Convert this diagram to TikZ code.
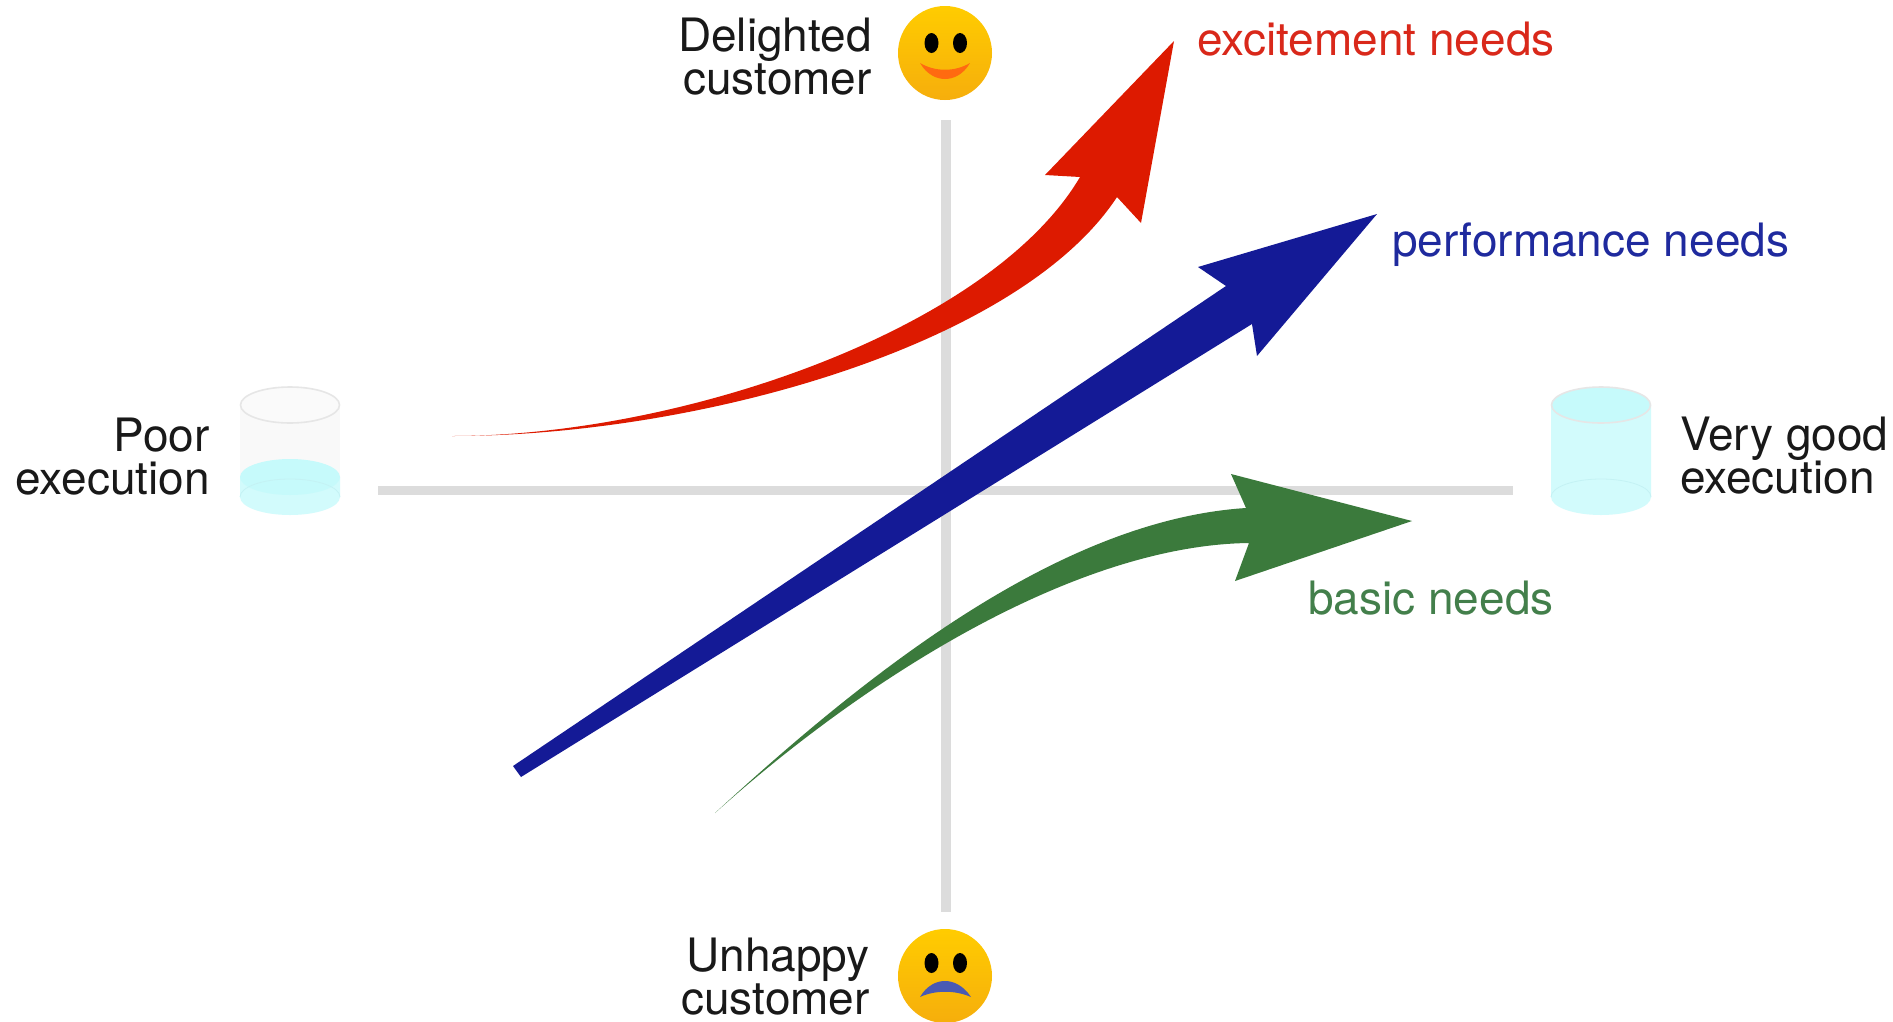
\documentclass[tikz,border=0pt]{standalone}
\usepackage{fontspec}
\setmainfont{TeX Gyre Heros}
\definecolor{axisgray}{HTML}{DCDCDC}
\definecolor{redarrow}{HTML}{DD1A00}
\definecolor{bluearrow}{HTML}{141A96}
\definecolor{greenarrow}{HTML}{3B7A3C}
\definecolor{redtext}{HTML}{D9281A}
\definecolor{bluetext}{HTML}{1F2A9E}
\definecolor{greentext}{HTML}{437F4B}
\definecolor{water}{HTML}{D2FBFC}
\definecolor{watertop}{HTML}{C6FAFB}
\definecolor{waterline}{HTML}{C4F2F4}
\definecolor{glass}{HTML}{F9F9F9}
\definecolor{glassline}{HTML}{E6E6E6}
\definecolor{facetop}{HTML}{FFCC00}
\definecolor{facebot}{HTML}{F6AE0C}
\definecolor{frown}{HTML}{4A5AB4}
\definecolor{smile}{HTML}{FF6A10}
\tikzset{
  axisline/.style={draw=axisgray,line width=9.5pt},
  blacktext/.style={font=\fontsize{46}{43}\selectfont,inner sep=0pt,text=black!90},
  needlabel/.style={font=\fontsize{46}{43}\selectfont,inner sep=0pt,anchor=base west},
  eye/.style={fill=black,draw=none},
  face/.style={circle,minimum size=94pt,inner sep=0pt,draw=none,top color=facetop,bottom color=facebot}
}
\begin{document}
\begin{tikzpicture}[x=1pt,y=-1pt]
\useasboundingbox[fill=white] (0,0) rectangle (1893,1021);
% axes
\coordinate (axL) at (378,490.5);
\coordinate (axR) at (1513,490.5);
\coordinate (axT) at (946,120);
\coordinate (axB) at (946,912);
\draw[axisline] (axL) -- (axR);
\draw[axisline] (axT) -- (axB);
% left cylinder
\fill[glass] (240,405) -- (340,405) -- (340,477) -- (240,477) -- cycle;
\fill[water] (240,477) -- (340,477) -- (340,497)
  .. controls (340,507) and (317.6,515) .. (290,515)
  .. controls (262.4,515) and (240,507) .. (240,497) -- cycle;
\fill[watertop] (290,477) ellipse[x radius=50,y radius=18];
\draw[waterline,line width=.8pt] (240,497)
  .. controls (240,487) and (262.4,479) .. (290,479)
  .. controls (317.6,479) and (340,487) .. (340,497);
\draw[glassline,fill=glass!80!white,line width=1.6pt] (290,405) ellipse[x radius=49.5,y radius=18];
% right cylinder
\fill[water] (1551,405) -- (1651,405) -- (1651,497)
  .. controls (1651,507) and (1628.6,515) .. (1601,515)
  .. controls (1573.4,515) and (1551,507) .. (1551,497) -- cycle;
\draw[waterline,line width=.8pt] (1551,497)
  .. controls (1551,487) and (1573.4,479) .. (1601,479)
  .. controls (1628.6,479) and (1651,487) .. (1651,497);
\draw[glassline,fill=watertop,line width=1.6pt] (1601,405) ellipse[x radius=49.5,y radius=18];
% happy face
\node[face] (happy) at (945,53) {};
\fill[eye] (931.5,43) ellipse[x radius=7,y radius=10];
\fill[eye] (960,43) ellipse[x radius=7,y radius=10];
\fill[smile] (920,63) .. controls (935,72) and (955,72) .. (970,63) .. controls (963,75) and (953,79) .. (945,79) .. controls (937,79) and (927,75) .. (920,63) -- cycle;
% unhappy face
\node[face] (sad) at (945,976) {};
\fill[eye] (931.5,963) ellipse[x radius=7,y radius=10];
\fill[eye] (960,963) ellipse[x radius=7,y radius=10];
\fill[frown] (920,997) .. controls (927,985) and (937,981) .. (945,981) .. controls (953,981) and (963,985) .. (971,997) .. controls (955,990) and (935,990) .. (920,997) -- cycle;
% red arrow
\fill[redarrow] (452,436)
  .. controls (680,436) and (990,330) .. (1080,177)
  -- (1045,175) -- (1174,41) -- (1141,223) -- (1117,197)
  .. controls (1020,345) and (700,436) .. (452,436) -- cycle;
% blue arrow
\fill[bluearrow] (513,766) -- (1226,286) -- (1198,267) -- (1377,214) -- (1257,356) -- (1252,324) -- (521,777) -- cycle;
% green arrow
\fill[greenarrow] (715,813)
  .. controls (868,672) and (1060,520) .. (1246,508)
  -- (1231,474) -- (1412,521) -- (1235,581) -- (1249,543)
  .. controls (1080,545) and (872,672) .. (715,813) -- cycle;
% labels
\node[blacktext,align=right,anchor=north east] (delighted) at (872,18) {Delighted\\customer};
\node[blacktext,align=right,anchor=north east] (unhappy) at (870,938) {Unhappy\\customer};
\node[blacktext,align=right,anchor=north east] (poor) at (210,418) {Poor\\execution};
\node[blacktext,align=left,anchor=north west] (verygood) at (1680,417) {Very good\\execution};
\node[needlabel,text=redtext] (excite) at (1197,55) {excitement needs};
\node[needlabel,text=bluetext] (perform) at (1392,256) {performance needs};
\node[needlabel,text=greentext] (basic) at (1308,614) {basic needs};
\end{tikzpicture}
\end{document}
